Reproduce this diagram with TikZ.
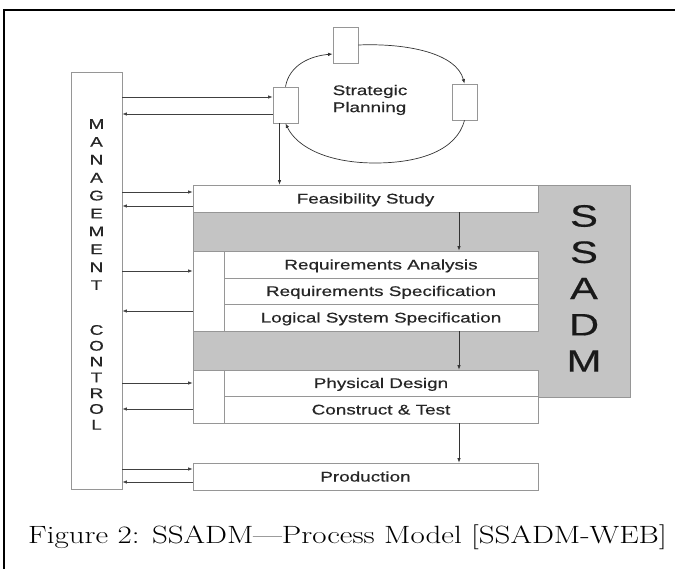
\documentclass[tikz,border=0pt]{standalone}
\usepackage{fontspec}
\usepackage{tikz}
\usetikzlibrary{arrows.meta,calc}
\newfontfamily\diagfont[FakeStretch=1.35, FakeBold=0.5]{Liberation Sans}
\newfontfamily\capfont[FakeStretch=1.24, Ligatures=TeX]{Latin Modern Roman}
\newcommand{\stagefont}{\diagfont\fontsize{14}{17}\selectfont}
\definecolor{ssadmgrey}{RGB}{196,196,196}
\definecolor{edgegrey}{RGB}{150,150,150}
\tikzset{
    stage-box/.style = {draw=edgegrey, fill=white, line width=0.8pt, rectangle, inner sep=0pt, minimum height=27pt, text height=10pt, text depth=0pt, font=\stagefont, text=black!85},
    strip-box/.style = {draw=edgegrey, fill=white, line width=0.8pt, rectangle, inner sep=0pt, minimum width=31pt},
    plan-box/.style = {draw=edgegrey, fill=white, line width=0.8pt, rectangle, inner sep=0pt, minimum width=25pt, minimum height=36pt},
    big-letter/.style = {font=\diagfont\fontsize{31}{31}\selectfont, inner sep=0pt, text=black!90},
    mgmt-letter/.style = {font=\stagefont, inner sep=0pt, text=black!85},
    ctrl-arrow/.style = {draw=black!75, line width=0.7pt, -{Latex[length=4.5pt,width=3.5pt]}},
    flow-arrow/.style = {draw=black!80, line width=0.7pt, -{Latex[length=4.5pt,width=3.5pt]}},
}

\begin{document}
\begin{tikzpicture}[x=1pt, y=-1pt]
\useasboundingbox (0,0) rectangle (675,569);
\draw[line width=2pt] (4,569) -- (4,10) -- (675,10);

% the method itself
\node[draw=edgegrey, fill=ssadmgrey, line width=0.8pt, minimum width=437pt, minimum height=212pt, inner sep=0pt] (ssadm-bg) at (411.5,291) {};
\foreach \ch [count=\i] in {S,S,A,D,M}
    \node[big-letter] (ssadm-\i) at (584, {216+36.25*(\i-1)}) {\ch};

\node[stage-box, minimum width=345pt] (feas) at (365.5,198.5) {Feasibility Study};
\node[strip-box, minimum height=80pt] (req-strip) at (208.5,291) {};
\node[stage-box, minimum width=314pt] (reqan) at (381,264.5) {Requirements Analysis};
\node[stage-box, minimum width=314pt, minimum height=26pt] (reqspec) at (381,291) {Requirements Specification};
\node[stage-box, minimum width=314pt] (logspec) at (381,317.5) {Logical System Specification};
\node[strip-box, minimum height=53pt] (phys-strip) at (208.5,396.5) {};
\node[stage-box, minimum width=314pt, minimum height=26pt] (phys) at (381,383) {Physical Design};
\node[stage-box, minimum width=314pt] (build) at (381,409.5) {Construct \& Test};
\node[stage-box, minimum width=345pt] (prod) at (365.5,476.5) {Production};

\coordinate (flow-x) at (459,0);
\draw[flow-arrow] (feas.south -| flow-x) -- (reqan.north -| flow-x);
\draw[flow-arrow] (logspec.south -| flow-x) -- (phys.north -| flow-x);
\draw[flow-arrow] (build.south -| flow-x) -- (prod.north -| flow-x);

% strategic planning cycle
\node[plan-box] (plan-top) at (345.5,45) {};
\node[plan-box] (plan-left) at (285.5,105) {};
\node[plan-box] (plan-right) at (464.5,102) {};
\node[font=\stagefont, align=left, text=black!85, inner sep=0pt] (plan-label) at (370,100) {Strategic\\Planning};
\coordinate (plan-low) at (375,163);
\draw[flow-arrow] (plan-left.north) .. controls +(4,-22) and +(-22,2) .. ($(plan-top.west)+(0,9)$);
\draw[flow-arrow] (plan-top.east) .. controls +(50,-2) and +(-8,-30) .. (plan-right.north);
\draw[flow-arrow] (plan-right.south) .. controls +(-8,30) and +(45,0) .. (plan-low) .. controls +(-45,0) and +(12,25) .. (plan-left.south);
\coordinate (drop) at ([xshift=-6pt]plan-left.south);
\draw[flow-arrow] (drop) -- (drop |- feas.north);

% management control
\node[draw=edgegrey, fill=white, line width=0.8pt, minimum width=51pt, minimum height=417pt, inner sep=0pt] (mgmt) at (96.5,280.5) {};
\foreach \ch [count=\i] in {M,A,N,A,G,E,M,E,N,T}
    \node[mgmt-letter] (mgmt-a\i) at (96.5, {124+17.9*(\i-1)}) {\ch};
\foreach \ch [count=\i] in {C,O,N,T,R,O,L}
    \node[mgmt-letter] (mgmt-b\i) at (96.5, {330+15.8*(\i-1)}) {\ch};

\foreach \n/\a/\b in {plan-left/8/9, feas/6.5/7.5, req-strip/20/20, phys-strip/13.5/12.5, prod/7.5/5.5} {
    \draw[ctrl-arrow] ($(mgmt.east |- \n.west)+(0,-\a)$) -- ($(\n.west)+(0,-\a)$);
    \draw[ctrl-arrow] ($(\n.west)+(0,\b)$) -- ($(mgmt.east |- \n.west)+(0,\b)$);
}

\node[font=\capfont\fontsize{25}{28}\selectfont, inner sep=0pt, text height=17pt, text depth=0pt] (caption) at (347.5,534.5) {Figure 2: SSADM---Process Model [SSADM-WEB]};
\end{tikzpicture}
\end{document}
